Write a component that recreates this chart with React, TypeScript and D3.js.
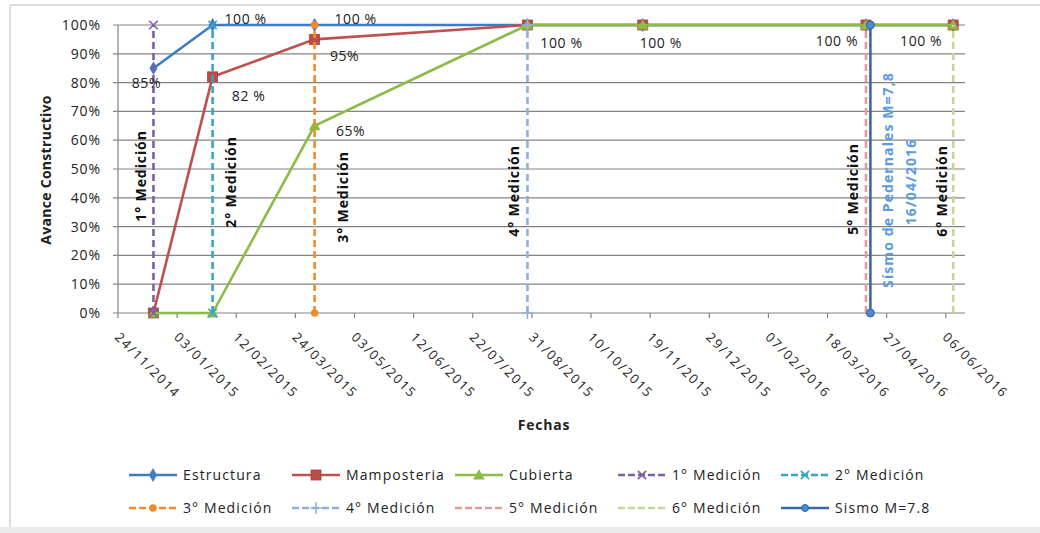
import React, { useRef, useEffect } from "react";
import * as d3 from "d3";

const W = 1040;
const H = 533;

// fechas de los puntos de las series
const fechasPuntos = ["18/12/2014", "27/01/2015", "06/04/2015", "28/08/2015", "14/11/2015", "13/04/2016", "11/06/2016"];
const estructura = [0.85, 1, 1, 1, 1, 1, 1];
const mamposteria = [0, 0.82, 0.95, 1, 1, 1, 1];
const cubierta = [0, 0, 0.65, 1, 1, 1, 1];

const medicionNombres = ["1° Medición", "2° Medición", "3° Medición", "4° Medición", "5° Medición", "6° Medición"];
const medicionFechas = ["18/12/2014", "27/01/2015", "06/04/2015", "28/08/2015", "13/04/2016", "11/06/2016"];
const sismoFecha = "16/04/2016";
const sismoNombre = "Sismo M=7.8";
const sismoTexto = ["Sísmo de Pedernales M=7,8", "16/04/2016"];

const xTicks = ["24/11/2014", "03/01/2015", "12/02/2015", "24/03/2015", "03/05/2015", "12/06/2015", "22/07/2015",
  "31/08/2015", "10/10/2015", "19/11/2015", "29/12/2015", "07/02/2016", "18/03/2016", "27/04/2016", "06/06/2016"];
const xMax = "19/06/2016";
const yTicks = [0, 0.1, 0.2, 0.3, 0.4, 0.5, 0.6, 0.7, 0.8, 0.9, 1];

const etiquetas = [
  { serie: 0, i: 0, texto: "85%" },
  { serie: 0, i: 1, texto: "100 %" },
  { serie: 0, i: 2, texto: "100 %" },
  { serie: 1, i: 1, texto: "82 %" },
  { serie: 1, i: 2, texto: "95%" },
  { serie: 2, i: 2, texto: "65%" },
  { serie: 1, i: 3, texto: "100 %" },
  { serie: 1, i: 4, texto: "100 %" },
  { serie: 1, i: 5, texto: "100 %" },
  { serie: 1, i: 6, texto: "100 %" },
];
// desplazamiento de cada etiqueta respecto a su punto
const etiquetaOffsets = [[-7, 14], [33, -7], [41, -7], [36, 19], [30, 16], [36, 5], [34, 17], [18, 17], [-29, 15], [-32, 15]];
// posición de los textos verticales (dx respecto a la línea, y centro)
const medicionTextoPos = [[-13, 176], [18, 182], [28, 197], [-14, 191], [-13, 189], [-12, 191]];

const FONT = "'Open Sans', sans-serif";

const medicionEstilos = [
  { color: "#7f5ea8", marker: d3.symbolX },
  { color: "#35a6c4", marker: d3.symbolX },
  { color: "#f28c28", marker: d3.symbolCircle },
  { color: "#8fb0dc", marker: d3.symbolPlus },
  { color: "#e39a9a", marker: null },
  { color: "#c2d896", marker: null },
];

const App = () => {
  const svgRef = useRef<SVGSVGElement>(null);

  useEffect(() => {
    const parse = d3.timeParse("%d/%m/%Y");
    const svg = d3.select(svgRef.current);
    svg.selectAll("*").remove();

    const x = d3.scaleTime()
      .domain([parse(xTicks[0])!, parse(xMax)!])
      .range([118, 965]);
    const y = d3.scaleLinear().domain([0, 1]).range([313, 25]);

    // marco
    svg.append("rect").attr("width", W).attr("height", H).attr("fill", "#fff");
    svg.append("rect").attr("x", 0).attr("y", 527).attr("width", W).attr("height", 6).attr("fill", "#ececec");
    svg.append("path").attr("d", "M10,527 L10,5 L1040,5").attr("fill", "none").attr("stroke", "#bdbdbd");

    // rejilla
    svg.append("g").selectAll("line").data(yTicks).enter().append("line")
      .attr("x1", 113).attr("x2", 965)
      .attr("y1", d => y(d)).attr("y2", d => y(d))
      .attr("stroke", "#848484").attr("stroke-width", 1.2);
    svg.append("line").attr("x1", 118).attr("x2", 118).attr("y1", y(1)).attr("y2", y(0))
      .attr("stroke", "#848484").attr("stroke-width", 1.2);

    svg.append("g").selectAll("text").data(yTicks).enter().append("text")
      .attr("x", 101).attr("y", d => y(d)).attr("dy", "0.35em")
      .attr("text-anchor", "end").attr("font-family", FONT).attr("font-size", 14).attr("letter-spacing", 0.9)
      .attr("fill", "#222")
      .text(d => d3.format(".0%")(d));

    // eje x
    const xg = svg.append("g");
    xg.selectAll("line").data(xTicks).enter().append("line")
      .attr("x1", d => x(parse(d)!)).attr("x2", d => x(parse(d)!))
      .attr("y1", 313).attr("y2", 318).attr("stroke", "#848484").attr("stroke-width", 1.2);
    xg.selectAll("text").data(xTicks).enter().append("text")
      .attr("transform", d => `translate(${x(parse(d)!) - 4},338) rotate(45)`)
      .attr("font-family", FONT).attr("font-size", 13).attr("letter-spacing", 1.7).attr("fill", "#222")
      .text(d => d);

    svg.append("text").attr("x", 544).attr("y", 430).attr("text-anchor", "middle")
      .attr("font-family", FONT).attr("font-weight", "bold").attr("font-size", 14).attr("letter-spacing", 0.8)
      .attr("fill", "#222")
      .text("Fechas");
    svg.append("text").attr("transform", "translate(45,170) rotate(-90)")
      .attr("text-anchor", "middle").attr("dominant-baseline", "central")
      .attr("font-family", FONT).attr("font-weight", "bold").attr("font-size", 14).attr("letter-spacing", 0.3)
      .attr("fill", "#222")
      .text("Avance Constructivo");

    const fechas = fechasPuntos.map(f => parse(f)!);
    const series = [
      { nombre: "Estructura", valores: estructura, color: "#3f7cc4" },
      { nombre: "Mamposteria", valores: mamposteria, color: "#c0504d" },
      { nombre: "Cubierta", valores: cubierta, color: "#8cbc46" },
    ];
    const line = d3.line<number>().x((_, i) => x(fechas[i])).y(d => y(d));

    const drawMarker = (g: any, tipo: number, color: string, px: number, py: number) => {
      if (tipo === 0) {
        g.append("path").attr("d", d3.symbol(d3.symbolDiamond, 55)())
          .attr("transform", `translate(${px},${py})`).attr("fill", color);
      } else if (tipo === 1) {
        const s = 10;
        g.append("rect").attr("x", px - s / 2).attr("y", py - s / 2).attr("width", s).attr("height", s)
          .attr("fill", "#be4b48").attr("stroke", "#a8403d").attr("stroke-width", 0.8);
      } else {
        g.append("path").attr("d", d3.symbol(d3.symbolTriangle, 60)())
          .attr("transform", `translate(${px},${py + 1})`).attr("fill", color);
      }
    };

    series.forEach((s, si) => {
      const g = svg.append("g");
      g.append("path").attr("d", line(s.valores)).attr("fill", "none")
        .attr("stroke", s.color).attr("stroke-width", 2.6);
      s.valores.forEach((v, i) => drawMarker(g, si, s.color, x(fechas[i]), y(v)));
    });

    const vText = (sel: any) => sel
      .attr("text-anchor", "middle").attr("dominant-baseline", "central")
      .attr("font-family", FONT).attr("font-weight", "bold").attr("font-size", 14);

    // mediciones
    medicionFechas.forEach((f, i) => {
      const st = medicionEstilos[i];
      const px = x(parse(f)!);
      const g = svg.append("g");
      g.append("line").attr("x1", px).attr("x2", px).attr("y1", y(0)).attr("y2", y(1))
        .attr("stroke", st.color).attr("stroke-width", 2.6).attr("stroke-dasharray", "7,4");
      if (st.marker) {
        [0, 1].forEach(v => {
          const p = g.append("path").attr("d", d3.symbol(st.marker, st.marker === d3.symbolCircle ? 45 : 50)())
            .attr("transform", `translate(${px},${y(v)})`);
          if (st.marker === d3.symbolCircle) p.attr("fill", st.color);
          else p.attr("fill", "none").attr("stroke", st.color).attr("stroke-width", 1.6);
        });
      }
      const [dx, cy] = medicionTextoPos[i];
      svg.append("text").attr("transform", `translate(${px + dx},${cy}) rotate(-90)`)
        .call(vText).attr("letter-spacing", 0.9).attr("fill", "#111")
        .text(medicionNombres[i]);
    });

    // sismo
    const sx = x(parse(sismoFecha)!);
    svg.append("line").attr("x1", sx).attr("x2", sx).attr("y1", y(0)).attr("y2", y(1))
      .attr("stroke", "#3e67a6").attr("stroke-width", 2.6);
    [0, 1].forEach(v => {
      svg.append("circle").attr("cx", sx).attr("cy", y(v)).attr("r", 4)
        .attr("fill", "#4a8ad0").attr("stroke", "#2f64a8").attr("stroke-width", 1);
    });
    sismoTexto.forEach((t, i) => {
      svg.append("text").attr("transform", `translate(${sx + (i === 0 ? 17 : 40)},${i === 0 ? 180 : 182}) rotate(-90)`)
        .call(vText).attr("letter-spacing", 1.1).attr("fill", "#5b9be0")
        .text(t);
    });

    // etiquetas de datos
    etiquetas.forEach((e, k) => {
      const s = series[e.serie];
      const [dx, dy] = etiquetaOffsets[k];
      svg.append("text")
        .attr("x", x(fechas[e.i]) + dx).attr("y", y(s.valores[e.i]) + dy)
        .attr("text-anchor", "middle").attr("dominant-baseline", "central")
        .attr("font-family", FONT).attr("font-size", 14).attr("letter-spacing", 0.6).attr("fill", "#222")
        .text(e.texto);
    });

    // leyenda
    const leyenda = [
      ...series.map((s, si) => ({ nombre: s.nombre, color: s.color, dash: null as string | null, tipo: si, marker: null as any })),
      ...medicionNombres.map((n, i) => ({ nombre: n, color: medicionEstilos[i].color, dash: "7,3", tipo: -1, marker: medicionEstilos[i].marker })),
      { nombre: sismoNombre, color: "#3e67a6", dash: null, tipo: 9, marker: null },
    ];
    leyenda.forEach((it, k) => {
      const lx = 129 + (k % 5) * 163;
      const ly = k < 5 ? 475 : 508;
      const g = svg.append("g");
      g.append("line").attr("x1", lx).attr("x2", lx + 48).attr("y1", ly).attr("y2", ly)
        .attr("stroke", it.color).attr("stroke-width", 2.6)
        .attr("stroke-dasharray", it.dash);
      const mx = lx + 24;
      if (it.tipo >= 0 && it.tipo <= 2) drawMarker(g, it.tipo, it.color, mx, ly);
      else if (it.tipo === 9) {
        g.append("circle").attr("cx", mx).attr("cy", ly).attr("r", 3.5)
          .attr("fill", "#4a8ad0").attr("stroke", "#2f64a8");
      } else if (it.marker) {
        const p = g.append("path").attr("d", d3.symbol(it.marker, 45)()).attr("transform", `translate(${mx},${ly})`);
        if (it.marker === d3.symbolCircle) p.attr("fill", it.color);
        else p.attr("fill", "none").attr("stroke", it.color).attr("stroke-width", 1.6);
      }
      g.append("text").attr("x", lx + 54).attr("y", ly).attr("dy", "0.35em")
        .attr("font-family", FONT).attr("font-size", 14).attr("letter-spacing", 1.1).attr("fill", "#222")
        .text(it.nombre);
    });
  }, []);

  return (
    <svg ref={svgRef} width={W} height={H} style={{ position: "absolute", left: 0, top: 0 }}></svg>
  );
};

export default App;
